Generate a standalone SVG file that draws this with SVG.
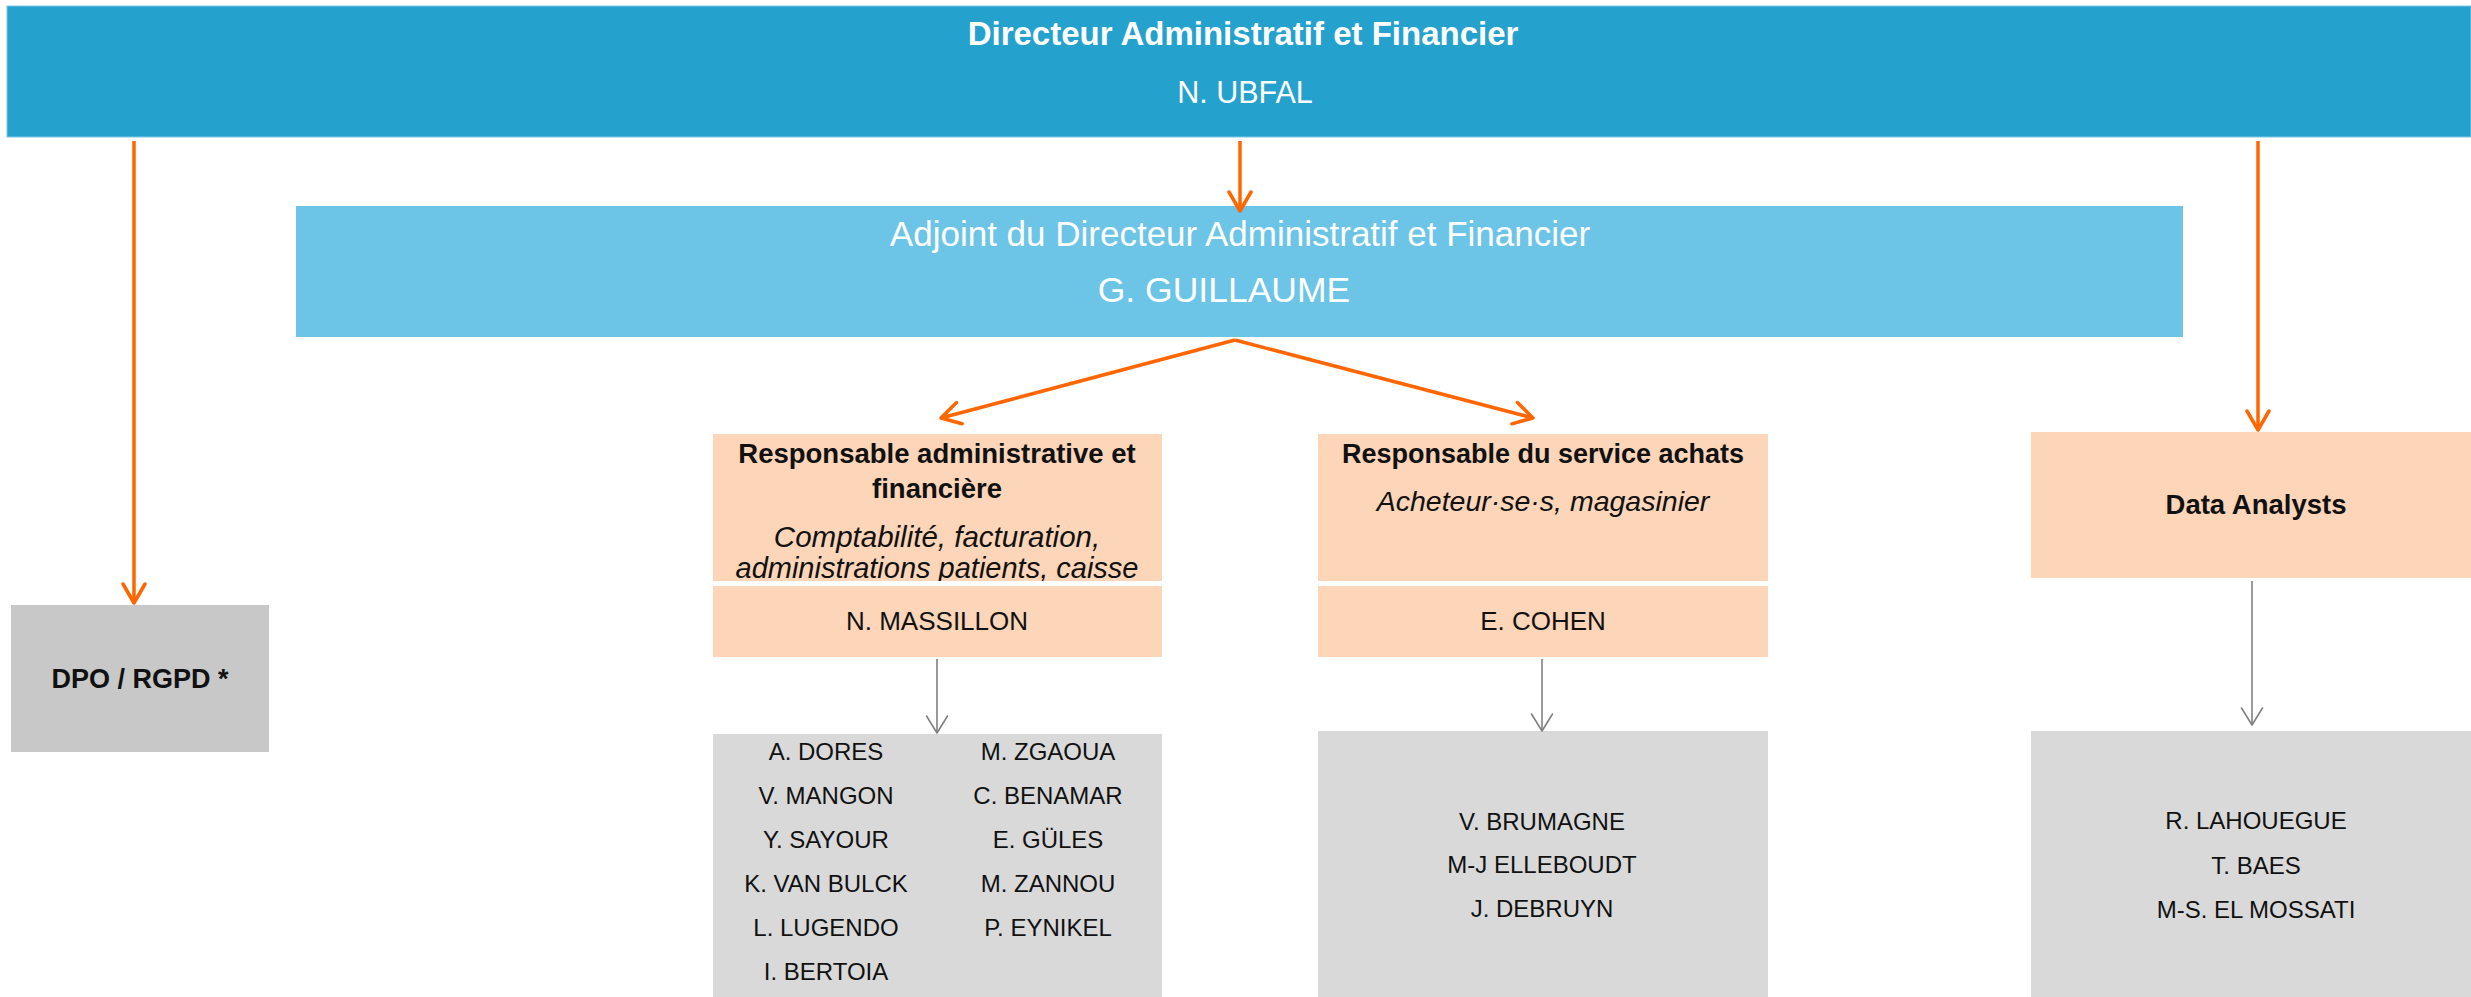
<svg xmlns="http://www.w3.org/2000/svg" width="2471" height="997" viewBox="0 0 2471 997">
<style>
text{font-family:"Liberation Sans",Arial,sans-serif;text-anchor:middle}
.w{fill:#ffffff}
.k{fill:#111111}
.b{font-weight:bold}
.i{font-style:italic}
.peach{fill:#FDD5B8}
.namebox{fill:#D9D9D9}
.nm{font-size:24px}
.oc{stroke:#FF6600;stroke-width:3.5;fill:none}
.gc{stroke:#808080;stroke-width:1.6;fill:none}
</style>
<defs>
<marker id="ao" markerUnits="userSpaceOnUse" markerWidth="26" markerHeight="26" viewBox="0 0 26 26" refX="22" refY="13" orient="auto">
<path d="M3,2 L22,13 L3,24" fill="none" stroke="#FF6600" stroke-width="3.5" stroke-linecap="round" stroke-linejoin="round"/>
</marker>
<marker id="ag" markerUnits="userSpaceOnUse" markerWidth="22" markerHeight="24" viewBox="0 0 22 24" refX="19" refY="12" orient="auto">
<path d="M2,1.5 L19,12 L2,22.5" fill="none" stroke="#808080" stroke-width="1.6" stroke-linecap="round" stroke-linejoin="round"/>
</marker>
<clipPath id="clipA"><rect x="713" y="434" width="449" height="147"/></clipPath>
</defs>

<g id="daf">
<rect x="7" y="6" width="2464" height="131" fill="#25A1CE" stroke="#7FC9E6" stroke-width="1"/>
<text class="w b" x="1243" y="45" font-size="33">Directeur Administratif et Financier</text>
<text class="w" x="1245" y="103" font-size="30.5">N. UBFAL</text>
</g>

<g id="adjoint">
<rect x="296" y="206" width="1887" height="131" fill="#6CC5E7"/>
<text class="w" x="1240" y="246" font-size="35">Adjoint du Directeur Administratif et Financier</text>
<text class="w" x="1224" y="302" font-size="35.5">G. GUILLAUME</text>
</g>

<g id="dpo">
<rect x="11" y="605" width="258" height="147" fill="#C8C8C8"/>
<text class="k b" x="140" y="688" font-size="27">DPO / RGPD *</text>
</g>

<g id="resp-admin">
<rect class="peach" x="713" y="434" width="449" height="147"/>
<rect class="peach" x="713" y="586" width="449" height="71"/>
<text class="k b" x="937" y="463" font-size="27.5">Responsable administrative et</text>
<text class="k b" x="937" y="498" font-size="27.5">financière</text>
<g clip-path="url(#clipA)">
<text class="k i" x="937" y="547" font-size="29.5">Comptabilité, facturation,</text>
<text class="k i" x="937" y="578" font-size="29">administrations patients, caisse</text>
</g>
<text class="k" x="937" y="630" font-size="26">N. MASSILLON</text>
</g>

<g id="resp-achats">
<rect class="peach" x="1318" y="434" width="450" height="147"/>
<rect class="peach" x="1318" y="586" width="450" height="71"/>
<text class="k b" x="1543" y="463" font-size="27">Responsable du service achats</text>
<text class="k i" x="1543" y="511" font-size="28.5">Acheteur·se·s, magasinier</text>
<text class="k" x="1543" y="630" font-size="26">E. COHEN</text>
</g>

<g id="data-analysts">
<rect class="peach" x="2031" y="432" width="440" height="146"/>
<text class="k b" x="2256" y="514" font-size="27.5">Data Analysts</text>
</g>

<g id="equipe-admin">
<rect class="namebox" x="713" y="734" width="449" height="263"/>
<text class="k nm" x="826" y="760">A. DORES</text>
<text class="k nm" x="826" y="804">V. MANGON</text>
<text class="k nm" x="826" y="848">Y. SAYOUR</text>
<text class="k nm" x="826" y="892">K. VAN BULCK</text>
<text class="k nm" x="826" y="936">L. LUGENDO</text>
<text class="k nm" x="826" y="980">I. BERTOIA</text>
<text class="k nm" x="1048" y="760">M. ZGAOUA</text>
<text class="k nm" x="1048" y="804">C. BENAMAR</text>
<text class="k nm" x="1048" y="848">E. GÜLES</text>
<text class="k nm" x="1048" y="892">M. ZANNOU</text>
<text class="k nm" x="1048" y="936">P. EYNIKEL</text>
</g>

<g id="equipe-achats">
<rect class="namebox" x="1318" y="731" width="450" height="266"/>
<text class="k nm" x="1542" y="830">V. BRUMAGNE</text>
<text class="k nm" x="1542" y="873">M-J ELLEBOUDT</text>
<text class="k nm" x="1542" y="917">J. DEBRUYN</text>
</g>

<g id="equipe-data">
<rect class="namebox" x="2031" y="731" width="440" height="266"/>
<text class="k nm" x="2256" y="829">R. LAHOUEGUE</text>
<text class="k nm" x="2256" y="874">T. BAES</text>
<text class="k nm" x="2256" y="918">M-S. EL MOSSATI</text>
</g>

<g id="connectors">
<line class="oc" x1="134" y1="141" x2="134" y2="603" marker-end="url(#ao)"/>
<line class="oc" x1="1240" y1="141" x2="1240" y2="211" marker-end="url(#ao)"/>
<line class="oc" x1="2258" y1="141" x2="2258" y2="430" marker-end="url(#ao)"/>
<line class="oc" x1="1235" y1="340" x2="941" y2="418" marker-end="url(#ao)"/>
<line class="oc" x1="1235" y1="340" x2="1533" y2="418" marker-end="url(#ao)"/>
<line class="gc" x1="937" y1="659" x2="937" y2="733" marker-end="url(#ag)"/>
<line class="gc" x1="1542" y1="659" x2="1542" y2="731" marker-end="url(#ag)"/>
<line class="gc" x1="2252" y1="581" x2="2252" y2="725" marker-end="url(#ag)"/>
</g>
</svg>
